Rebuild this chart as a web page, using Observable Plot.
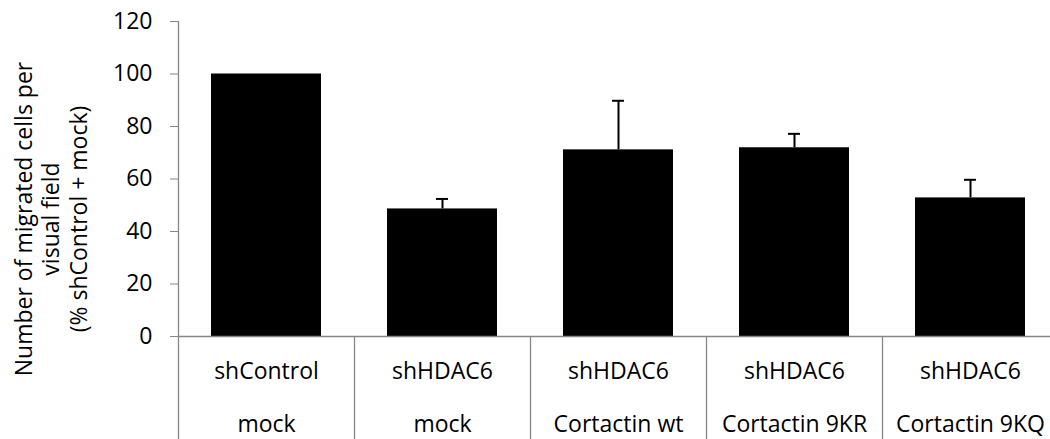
<!DOCTYPE html>
<html>
<head>
<meta charset="utf-8">
<script src="https://cdn.jsdelivr.net/npm/d3@7"></script>
<script src="https://cdn.jsdelivr.net/npm/@observablehq/plot@0.6"></script>
<style>
  html, body { margin: 0; padding: 0; background: #ffffff; }
  #chart { width: 1050px; height: 439px; }
</style>
</head>
<body>
<div id="chart"></div>
<script>
// ---- data ----
const line1 = ["shControl", "shHDAC6", "shHDAC6", "shHDAC6", "shHDAC6"];
const line2 = ["mock", "mock", "Cortactin wt", "Cortactin 9KR", "Cortactin 9KQ"];
const values = [100, 48.6, 71.1, 71.9, 52.8];
const errors = [0, 3.8, 18.7, 5.3, 6.9];
const yTicks = [0, 20, 40, 60, 80, 100, 120];
const yTitleLines = ["Number of migrated cells per", "visual field", "(% shControl + mock)"];

// ---- build table ----
const groups = line1.map((a, i) => a + " | " + line2[i]);
const rows = groups.map((g, i) => ({g, v: values[i], e: errors[i], l1: line1[i], l2: line2[i]}));
const errRows = rows.filter(d => d.e > 0);

const AXIS = "#868686";
const FONT = 23;

// separators of the two-level category axis (drawn from the band scale)
function separators(index, scales, values, dims) {
  const x = scales.x, y = scales.y;
  const bw = x.bandwidth ? x.bandwidth() : 0;
  const step = x.step ? x.step() : (x(groups[1]) - x(groups[0]));
  const g = d3.create("svg:g").attr("stroke", AXIS).attr("stroke-width", 1.3);
  groups.forEach((k, i) => {
    const xs = Math.round(x(k) - (step - bw) / 2) + 0.5;
    g.append("line")
      .attr("x1", xs).attr("x2", xs)
      .attr("y1", i === 0 ? y(yTicks[yTicks.length - 1]) : y(0))
      .attr("y2", dims.height);
  });
  return g.node();
}

const chart = Plot.plot({
  width: 1050,
  height: 439,
  marginTop: 21,
  marginBottom: 103,
  marginLeft: 178,
  marginRight: 0,
  style: {fontFamily: "'Open Sans', sans-serif", fontSize: FONT + "px", color: "black", background: "white"},
  x: {domain: groups, range: [178, 1058], paddingInner: 0.375, paddingOuter: 0.1875, axis: null},
  y: {domain: [0, 120], axis: null},
  marks: [
    Plot.barY(rows, {x: "g", y: "v", fill: "black"}),
    Plot.ruleX(errRows, {x: "g", y1: "v", y2: d => d.v + d.e, stroke: "black", strokeWidth: 2}),
    Plot.tickY(errRows, {x: "g", y: d => d.v + d.e, stroke: "black", strokeWidth: 2, insetLeft: 49, insetRight: 49}),
    Plot.ruleY([0], {stroke: AXIS, strokeWidth: 1.3}),
    Plot.axisY({ticks: yTicks, label: null, tickSize: 8, tickPadding: 18, stroke: AXIS, fill: "black", fontSize: FONT, tickFormat: d => String(d)}),
    separators,
    Plot.text(rows, {x: "g", text: "l1", frameAnchor: "bottom", lineAnchor: "middle", dy: 35, fontSize: FONT, fill: "black"}),
    Plot.text(rows, {x: "g", text: "l2", frameAnchor: "bottom", lineAnchor: "middle", dy: 88, fontSize: FONT, fill: "black"}),
    Plot.text([yTitleLines.join("\n")], {frameAnchor: "left", rotate: -90, dx: -128, dy: 40, lineHeight: 1.2, lineAnchor: "middle", textAnchor: "middle", fontSize: FONT, fill: "black"})
  ]
});
document.getElementById("chart").appendChild(chart);
</script>
</body>
</html>
